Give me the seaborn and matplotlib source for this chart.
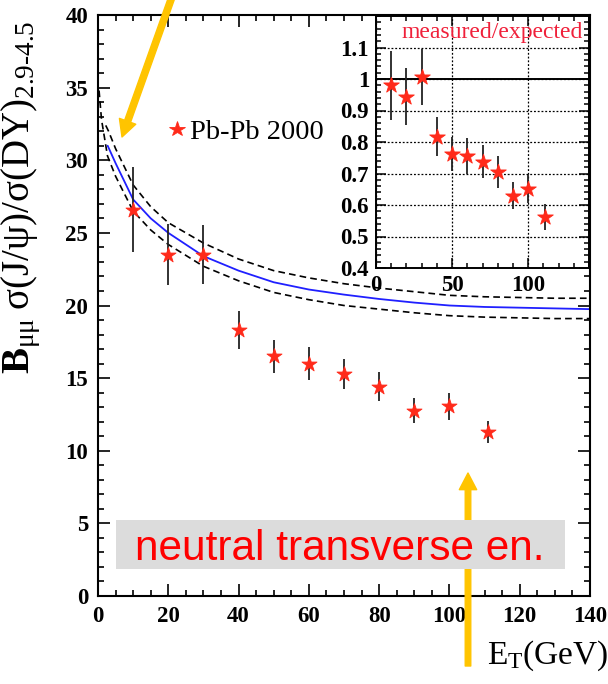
import matplotlib
matplotlib.use("Agg")
import matplotlib.pyplot as plt
import seaborn as sns
from matplotlib.patches import Rectangle, FancyArrowPatch
from matplotlib.lines import Line2D
from matplotlib.ticker import MultipleLocator, FixedLocator, FuncFormatter

# ---- data -------------------------------------------------------------
et_bins = [10, 20, 30, 40, 50, 60, 70, 80, 90, 100, 111]
jpsi_dy = [26.6, 23.5, 23.5, 18.3, 16.5, 16.0, 15.3, 14.4, 12.75, 13.05, 11.3]
jpsi_dy_err = [2.95, 2.1, 2.05, 1.3, 1.15, 1.15, 1.05, 1.0, 0.85, 0.9, 0.75]

meas_over_exp = [0.98, 0.944, 1.006, 0.817, 0.762, 0.756, 0.738, 0.704, 0.630, 0.651, 0.562]
meas_over_exp_err = [0.11, 0.09, 0.088, 0.063, 0.055, 0.058, 0.052, 0.05, 0.043, 0.045, 0.041]

# normal nuclear absorption expectation and its band
exp_et = [2.75, 5, 10, 15, 20, 30, 40, 50, 60, 70, 80, 90, 100, 110, 120, 130, 140]
exp_val = [31.0, 29.8, 27.3, 26.0, 25.0, 23.4, 22.4, 21.6, 21.1, 20.75, 20.45, 20.2,
           20.0, 19.9, 19.85, 19.8, 19.75]
hi_et = [2.2, 3, 5, 10, 15, 20, 30, 40, 50, 60, 70, 80, 90, 100, 110, 120, 130, 140]
hi_val = [32.4, 32.0, 30.8, 28.3, 26.8, 25.7, 24.3, 23.2, 22.4, 21.9, 21.5, 21.2,
          20.95, 20.7, 20.6, 20.55, 20.5, 20.5]
lo_et = [0.3, 1, 2.7, 5, 10, 15, 20, 30, 40, 50, 60, 70, 80, 90, 100, 110, 120, 130, 140]
lo_val = [34.8, 32.8, 30.3, 28.9, 26.5, 25.2, 24.2, 22.7, 21.7, 20.9, 20.4, 20.0,
          19.75, 19.5, 19.3, 19.2, 19.15, 19.1, 19.1]

x_ticks = [0, 20, 40, 60, 80, 100, 120, 140]
y_ticks = [0, 5, 10, 15, 20, 25, 30, 35, 40]
inset_x_ticks = [0, 50, 100]
inset_y_ticks = [0.4, 0.5, 0.6, 0.7, 0.8, 0.9, 1.0, 1.1]

legend_label = "Pb-Pb 2000"
inset_title = "measured/expected"
banner_text = "neutral transverse en."

# ---- style ------------------------------------------------------------
sns.set_theme(style="ticks")
plt.rcParams.update({
    "font.family": ["Liberation Serif", "DejaVu Serif"],
    "mathtext.fontset": "custom",
    "mathtext.rm": "Liberation Serif",
    "mathtext.bf": "Liberation Serif:bold",
    "mathtext.it": "Liberation Serif:italic",
    "axes.linewidth": 1.5,
    "axes.edgecolor": "black",
    "text.color": "black",
    "axes.labelcolor": "black",
    "xtick.color": "black",
    "ytick.color": "black",
})

STAR = "#ff2a1a"
GOLD = "#ffc400"
W, H = 608, 684


def fpx(x, y):
    """pixel position (from top-left) -> figure fraction"""
    return (x / W, 1 - y / H)


fig = plt.figure(figsize=(W / 100, H / 100), dpi=100)
fig.patch.set_facecolor("white")

# ---- main panel -------------------------------------------------------
ax = fig.add_axes([98 / W, 1 - 596 / H, (590 - 98) / W, (596 - 15) / H])
ax.set_facecolor("white")

sns.lineplot(x=lo_et, y=lo_val, ax=ax, color="black", lw=1.2,
             linestyle=(0, (4, 2.5)), estimator=None)
sns.lineplot(x=hi_et, y=hi_val, ax=ax, color="black", lw=1.2,
             linestyle=(0, (4, 2.5)), estimator=None)
sns.lineplot(x=exp_et, y=exp_val, ax=ax, color="#2020ff", lw=1.3, estimator=None)

ax.errorbar(et_bins, jpsi_dy, yerr=jpsi_dy_err, fmt="none", ecolor="#222222",
            elinewidth=1.3, capsize=0, zorder=3)
sns.scatterplot(x=et_bins, y=jpsi_dy, ax=ax, marker="*", s=130, color=STAR,
                edgecolor=STAR, linewidth=0.6, zorder=4)

ax.set_xlim(0, 140)
ax.set_ylim(0, 40)
ax.xaxis.set_major_locator(FixedLocator(x_ticks))
ax.yaxis.set_major_locator(FixedLocator(y_ticks))
ax.xaxis.set_minor_locator(MultipleLocator(5))
ax.yaxis.set_minor_locator(MultipleLocator(1))
ax.tick_params(which="both", direction="in", top=True, right=True, width=1.2,
               colors="black")
ax.tick_params(which="major", length=8.5, labelsize=16.5, pad=7)
ax.tick_params(which="minor", length=4.3)
for lab in ax.get_xticklabels() + ax.get_yticklabels():
    lab.set_fontweight("bold")
for s in ax.spines.values():
    s.set_visible(True)
    s.set_linewidth(1.5)

ax.set_xlabel("")
ax.set_ylabel(r"$\mathbf{B}_{\mathrm{\mu\mu}}\;\mathrm{\sigma(J/\psi)/\sigma(DY)}"
              r"_{\mathrm{2.9\text{-}4.5}}$", fontsize=28, loc="top", color="black")
ax.yaxis.set_label_coords(-0.112, 0.99)

fig.text(*fpx(487, 664), r"$\mathrm{E_T}$(GeV)", fontsize=24, va="baseline",
         ha="left", family="Liberation Serif", color="black")

# legend entry
ax.legend(handles=[Line2D([], [], marker="*", color=STAR, ls="none",
                          markersize=11.5, markeredgewidth=0.6)],
          labels=[legend_label], loc="center left",
          bbox_to_anchor=fpx(166, 132), bbox_transform=fig.transFigure,
          frameon=False, handlelength=0.8, handletextpad=0.05,
          borderpad=0, borderaxespad=0, labelcolor="black",
          prop={"family": "Liberation Serif", "size": 20.5})

# ---- inset: measured / expected -------------------------------------
ins = fig.add_axes([376 / W, 1 - 268 / H, (589 - 376) / W, (268 - 16) / H], zorder=5)
ins.set_facecolor("white")
ins.set_xlim(0, 140)
ins.set_ylim(0.4, 1.2)
ins.xaxis.set_major_locator(FixedLocator(inset_x_ticks))
ins.yaxis.set_major_locator(FixedLocator(inset_y_ticks))
ins.xaxis.set_minor_locator(MultipleLocator(10))
ins.yaxis.set_minor_locator(MultipleLocator(0.02))
ins.yaxis.set_major_formatter(FuncFormatter(
    lambda v, p: "1" if abs(v - 1) < 1e-9 else f"{v:.1f}"))
ins.grid(True, which="major", color="black", linestyle=(0, (1.5, 1.5)), lw=0.9)
ins.axhline(1.0, color="black", lw=1.4, zorder=2)
ins.errorbar(et_bins, meas_over_exp, yerr=meas_over_exp_err, fmt="none",
             ecolor="#222222", elinewidth=1.3, capsize=0, zorder=3)
sns.scatterplot(x=et_bins, y=meas_over_exp, ax=ins, marker="*", s=140,
                color=STAR, edgecolor=STAR, linewidth=0.6, zorder=4)
ins.tick_params(which="both", direction="in", top=True, right=True, width=1.1,
                colors="black")
ins.tick_params(which="major", length=7, labelsize=16.5, pad=5)
ins.tick_params(which="minor", length=3.5)
for lab in ins.get_xticklabels() + ins.get_yticklabels():
    lab.set_fontweight("bold")
for s in ins.spines.values():
    s.set_visible(True)
    s.set_linewidth(1.4)
ins.set_xlabel("")
ins.set_ylabel("")
ins.text(0.97, 0.935, inset_title, transform=ins.transAxes, ha="right",
         va="center", fontsize=17, color="#f0203a", family="Liberation Serif")

# ---- annotations ------------------------------------------------------
fig.add_artist(FancyArrowPatch(
    posA=fpx(468, 666), posB=fpx(468, 473), transform=fig.transFigure,
    arrowstyle="simple,head_length=1.2,head_width=1.25,tail_width=0.4",
    mutation_scale=10, color=GOLD, shrinkA=0, shrinkB=0, zorder=2))
fig.add_artist(Rectangle(fpx(116, 569), (565 - 116) / W, 49 / H,
                         transform=fig.transFigure, facecolor="#dcdcdc",
                         edgecolor="none", zorder=3))
fig.text(*fpx(340, 560), banner_text, ha="center", va="baseline", fontsize=30.5,
         color="#ff0000", family="Liberation Sans", zorder=4)
fig.add_artist(FancyArrowPatch(
    posA=fpx(173, -6), posB=fpx(122, 137), transform=fig.transFigure,
    arrowstyle="simple,head_length=1.2,head_width=1.25,tail_width=0.45",
    mutation_scale=10, color=GOLD, shrinkA=0, shrinkB=0, zorder=8))

fig.savefig("out.png", dpi=100, facecolor="white")
